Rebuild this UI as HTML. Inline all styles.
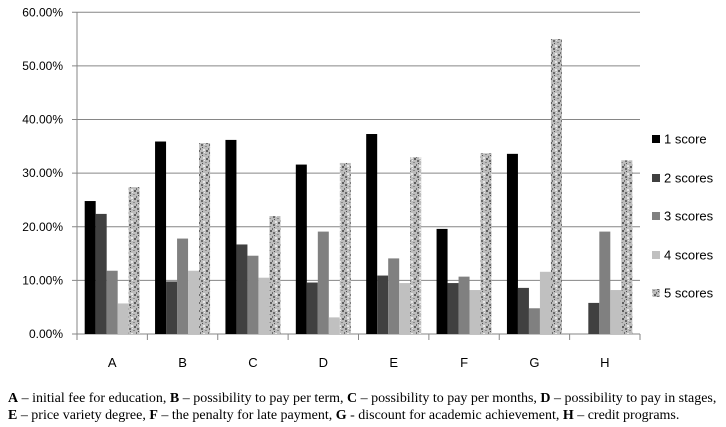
<!DOCTYPE html>
<html><head><meta charset="utf-8"><style>
body{margin:0;background:#fff;width:726px;height:427px;overflow:hidden}
svg{display:block}
</style></head><body>
<svg id="chart" width="726" height="427" xmlns="http://www.w3.org/2000/svg">
<defs>
<pattern id="noise" width="8" height="8" patternUnits="userSpaceOnUse">
<rect width="8" height="8" fill="#bdbdbd"/>
<rect x="1" y="0" width="2" height="2" fill="#6a6a6a"/>
<rect x="5" y="2" width="2" height="1" fill="#8a8a8a"/>
<rect x="0" y="4" width="1" height="2" fill="#707070"/>
<rect x="3" y="5" width="2" height="2" fill="#e6e6e6"/>
<rect x="6" y="6" width="2" height="2" fill="#5e5e5e"/>
<rect x="4" y="0" width="1" height="1" fill="#e8e8e8"/>
<rect x="2" y="3" width="1" height="1" fill="#4f4f4f"/>
</pattern>
</defs>
<g id="grid"></g><g id="bars"></g><g id="axes"></g><g id="legend"></g>
<text id="cap1" x="0" y="0" font-family="Liberation Serif, serif" font-size="14"><tspan font-weight="bold">A</tspan> – initial fee for education, <tspan font-weight="bold">B</tspan> – possibility to pay per term, <tspan font-weight="bold">C</tspan> – possibility to pay per months, <tspan font-weight="bold">D</tspan> – possibility to pay in stages,</text>
<text id="cap2" x="0" y="0" font-family="Liberation Serif, serif" font-size="14"><tspan font-weight="bold">E</tspan> – price variety degree, <tspan font-weight="bold">F</tspan> – the penalty for late payment, <tspan font-weight="bold">G</tspan> - discount for academic achievement, <tspan font-weight="bold">H</tspan> – credit programs.</text>
</svg>
<script>
const categories=["A","B","C","D","E","F","G","H"];
const seriesNames=["1 score","2 scores","3 scores","4 scores","5 scores"];
const s1=[24.8,35.9,36.2,31.6,37.3,19.6,33.6,0];
const s2=[22.4,9.8,16.7,9.6,10.9,9.5,8.6,5.8];
const s3=[11.8,17.8,14.6,19.1,14.1,10.7,4.8,19.1];
const s4=[5.7,11.8,10.5,3.1,9.5,8.2,11.6,8.2];
const s5=[27.4,35.6,22.0,31.9,33.0,33.7,55.0,32.4];
const yTicks=[0,10,20,30,40,50,60];
const series=[s1,s2,s3,s4,s5];
const fills=["#000000","#404040","#808080","#c0c0c0","url(#noise)"];
const NS="http://www.w3.org/2000/svg";
const L=77,R=640,T=12.3,B=334,yMax=60;
const y=v=>B-(v/yMax)*(B-T);
const gw=(R-L)/categories.length;
const x=i=>L+i*gw;
function mk(tag,attrs,parent){const e=document.createElementNS(NS,tag);for(const k in attrs)e.setAttribute(k,attrs[k]);parent.appendChild(e);return e;}
const grid=document.getElementById('grid'),bars=document.getElementById('bars'),axes=document.getElementById('axes'),leg=document.getElementById('legend');
yTicks.forEach(t=>{
  const ln=mk('line',{x1:L-5,x2:R,y1:y(t),y2:y(t),stroke:'#868686','stroke-width':1},grid);
  
  
  const tx=mk('text',{x:63,y:y(t)+4,'text-anchor':'end','font-family':'Liberation Sans, sans-serif','font-size':12},axes);
  tx.textContent=t.toFixed(2)+'%';
  
  
});
const bw=11,pad=(gw-5*bw)/2;
categories.forEach((c,i)=>{
  series.forEach((s,j)=>{
    const v=s[i];
    const r=mk('rect',{x:x(i)+pad+j*bw,y:y(v),width:bw,height:B-y(v),fill:fills[j]},bars);
    
    
  });
  const tx=mk('text',{x:x(i)+gw/2,y:367,'text-anchor':'middle','font-family':'Liberation Sans, sans-serif','font-size':13},axes);
  tx.textContent=c;
  
  
});
for(let i=0;i<=categories.length;i++){
  const tk=mk('line',{x1:x(i),x2:x(i),y1:B,y2:B+6,stroke:'#868686'},axes);
  
  
}
const ax=mk('line',{x1:L,x2:L,y1:T,y2:B,stroke:'#868686'},axes);


const ly=[139,178,216,255,293];
seriesNames.forEach((n,j)=>{
  const g=mk('g',{},leg);
  
  
  mk('rect',{x:652,y:ly[j]-4,width:8,height:8,fill:fills[j]},g);
  const t=mk('text',{x:664,y:ly[j]+4.5,'font-family':'Liberation Sans, sans-serif','font-size':13},g);
  t.textContent=n;
});
function fit(id,x0,yb,w){const t=document.getElementById(id);const n=t.getComputedTextLength();t.setAttribute('transform','translate('+x0+','+yb+') scale('+(w/n)+',1)');}
fit('cap1',8,402,709);
fit('cap2',8,419,672);
</script>
</body></html>
